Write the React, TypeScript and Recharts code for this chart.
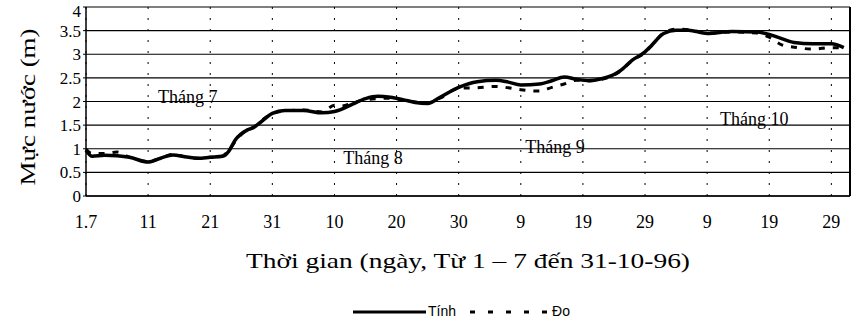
import React from 'react'
import { LineChart, Line, XAxis, YAxis, CartesianGrid, ReferenceLine, ReferenceDot, Legend } from 'recharts'

// ngày tính từ 1-7 (0 = 1/7, 122 = 31/10)
const days = [0, 1, 3, 5, 7, 10, 12, 14, 16, 18, 20, 22, 23, 24, 26, 27, 28, 30, 32, 35, 38, 40, 41, 43, 45, 47, 49, 51, 53, 55, 57, 60, 63, 66, 68, 70, 73, 75, 77, 79, 81, 83, 85, 86, 88, 90, 91, 93, 95, 97, 100, 104, 108, 110, 112, 114, 117, 120, 122]
const tinh = [0.97, 0.84, 0.86, 0.85, 0.82, 0.72, 0.8, 0.87, 0.83, 0.8, 0.82, 0.84, 0.95, 1.18, 1.4, 1.45, 1.55, 1.75, 1.81, 1.81, 1.76, 1.79, 1.83, 1.95, 2.06, 2.11, 2.09, 2.04, 1.98, 1.96, 2.09, 2.3, 2.42, 2.45, 2.41, 2.35, 2.37, 2.44, 2.52, 2.47, 2.44, 2.48, 2.57, 2.65, 2.88, 3.05, 3.18, 3.44, 3.51, 3.51, 3.44, 3.48, 3.47, 3.42, 3.33, 3.25, 3.22, 3.22, 3.14]
const doMeasured = [0.99, 0.9, 0.9, 0.93, 0.82, 0.73, 0.8, 0.88, 0.83, 0.8, 0.82, 0.85, 0.97, 1.15, 1.41, 1.46, 1.57, 1.74, 1.8, 1.82, 1.78, 1.92, 1.9, 1.97, 2.04, 2.06, 2.07, 2.03, 1.99, 1.97, 2.07, 2.28, 2.29, 2.32, 2.29, 2.25, 2.22, 2.3, 2.37, 2.45, 2.44, 2.47, 2.56, 2.64, 2.87, 3.04, 3.17, 3.45, 3.53, 3.52, 3.45, 3.47, 3.45, 3.36, 3.2, 3.15, 3.11, 3.14, 3.13]

const xTicks = [0, 10, 20, 30, 40, 50, 60, 70, 80, 90, 100, 110, 120]
const xTickLabels = ['1.7', '11', '21', '31', '10', '20', '30', '9', '19', '29', '9', '19', '29']
const yTicks = [0, 0.5, 1, 1.5, 2, 2.5, 3, 3.5, 4]
const months = ['Tháng 7', 'Tháng 8', 'Tháng 9', 'Tháng 10']

const SERIF = '"Liberation Serif", "Times New Roman", serif'
const SANS = '"Liberation Sans", Arial, sans-serif'

const data = days.map((d, i) => ({ day: d, tinh: tinh[i], do: doMeasured[i] }))

// chỗ đặt nhãn tháng (ngày, mực nước)
const monthSpots = [
  { x: 16.4, y: 2.11 },
  { x: 46.2, y: 0.82 },
  { x: 75.5, y: 1.05 },
  { x: 107.6, y: 1.64 }
]

function ChartLegend() {
  return (
    <div style={{ display: 'flex', alignItems: 'center', fontFamily: SANS, fontSize: 14, color: '#000', lineHeight: '15px' }}>
      <svg width={73} height={6}>
        <line x1={0} y1={3} x2={73} y2={3} stroke="#000" strokeWidth={3} />
      </svg>
      <span style={{ marginLeft: 2 }}>Tính</span>
      <svg width={80} height={6} style={{ marginLeft: 14 }}>
        <line x1={0} y1={3} x2={80} y2={3} stroke="#000" strokeWidth={3} strokeDasharray="5 13" />
      </svg>
      <span style={{ marginLeft: 2 }}>Đo</span>
    </div>
  )
}

// nhãn trục tung; số 4 trên cùng hạ xuống một chút cho khỏi bị cắt
const YTick = (p: any) => (
  <text x={p.x} y={Math.max(p.y, 11)} dy="0.355em" textAnchor="end" fontFamily={SERIF} fontSize={17} fill="#000">
    {p.payload.value}
  </text>
)

const renderXLabel = (props: any) => {
  const vb = props.viewBox
  const cx = vb.x + vb.width / 2
  return (
    <text x={cx} y={vb.y + 72} textAnchor="middle" fontFamily={SERIF} fontSize={22} fill="#000"
      textLength={444} lengthAdjust="spacingAndGlyphs">
      Thời gian (ngày, Từ 1 – 7 đến 31-10-96)
    </text>
  )
}

const renderYLabel = (props: any) => {
  const vb = props.viewBox
  const x = vb.x + 35
  const y = vb.y + 100
  return (
    <text x={x} y={y} textAnchor="middle" fontFamily={SERIF} fontSize={22} fill="#000"
      transform={`rotate(-90, ${x}, ${y})`} textLength={157} lengthAdjust="spacingAndGlyphs">
      Mực nước (m)
    </text>
  )
}

export default function App(): JSX.Element {
  return (
    <div style={{ position: 'absolute', left: 0, top: 0, width: 865, height: 328, background: '#fff' }}>
      <LineChart width={865} height={328} data={data} margin={{ top: 7, right: 15, left: 0, bottom: 0 }}>
        <CartesianGrid vertical={false} stroke="#000" strokeWidth={1.2} />
        <CartesianGrid horizontal={false} stroke="#000" strokeDasharray="2 9" strokeWidth={1} />
        <XAxis
          dataKey="day"
          type="number"
          domain={[0, 123]}
          ticks={xTicks}
          interval={0}
          tickFormatter={(v: number) => xTickLabels[xTicks.indexOf(v)]}
          height={132}
          tickLine={false}
          tickSize={6}
          tickMargin={13}
          axisLine={{ stroke: '#000', strokeWidth: 1.5 }}
          tick={{ fontFamily: SERIF, fontSize: 18, fill: '#000' }}
          label={{ position: 'insideTop', content: renderXLabel }}
        />
        <YAxis
          type="number"
          domain={[0, 4]}
          ticks={yTicks}
          interval={0}
          width={86}
          tickSize={3}
          tickMargin={2}
          tickLine={{ stroke: '#000' }}
          axisLine={{ stroke: '#000', strokeWidth: 1.5 }}
          tick={YTick}
          label={{ position: 'insideLeft', content: renderYLabel }}
        />
        <ReferenceLine x={123} stroke="#000" strokeWidth={2} />
        {months.map((m, i) => (
          <ReferenceDot key={m} x={monthSpots[i].x} y={monthSpots[i].y} r={0} fill="none" stroke="none"
            label={{ value: m, position: 'center', fontFamily: SERIF, fontSize: 18, fill: '#000' }} />
        ))}
        <Line type="monotone" dataKey="do" name="Đo" stroke="#000" strokeWidth={3} strokeDasharray="6 8"
          dot={false} activeDot={false} isAnimationActive={false} />
        <Line type="monotone" dataKey="tinh" name="Tính" stroke="#000" strokeWidth={3.5}
          dot={false} activeDot={false} isAnimationActive={false} />
        <Legend verticalAlign="middle" align="center" content={() => <ChartLegend />}
          wrapperStyle={{ left: 353, top: 304, width: 'auto' }} />
      </LineChart>
    </div>
  )
}
